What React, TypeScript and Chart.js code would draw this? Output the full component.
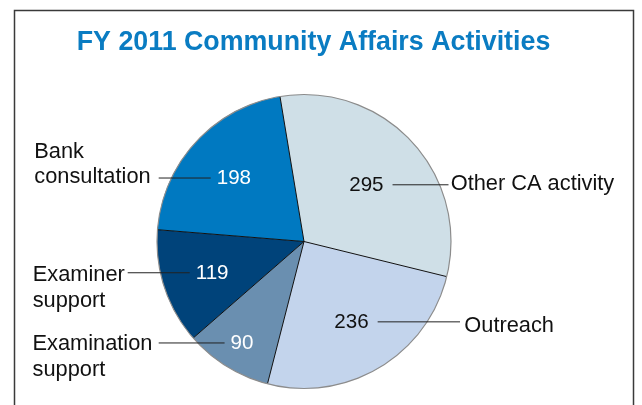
import { useEffect, useRef } from 'react';
import { Chart, PieController, ArcElement } from 'chart.js';

Chart.register(PieController, ArcElement);

// ---- data ----
const categories = ['Other CA activity', 'Outreach', 'Examination support', 'Examiner support', 'Bank consultation'];
const values = [295, 236, 90, 119, 198];
const labelLines = [['Other CA activity'], ['Outreach'], ['Examination', 'support'], ['Examiner', 'support'], ['Bank', 'consultation']];
const titleText = 'FY 2011 Community Affairs Activities';

// ---- styles ----
const sliceColors = ['#cfdfe7', '#c3d4ec', '#6a8fb0', '#00437a', '#0079c1'];
const valueTextColors = ['#111111', '#111111', '#ffffff', '#ffffff', '#ffffff'];

// ---- layout ----
const labelSide = ['right', 'right', 'left', 'left', 'left'];
const labelX = [450.7, 464.3, 32.5, 32.7, 34.3];
const leaderOuterX = [448.5, 460, 158.7, 127.7, 158.7];
const labelBaselineDy = [5.5, 10.5, 7.5, 8.3, 5.2];
const labelAttachLine = [0, 0, 0, 0, 1];
const valueRadiusFrac = [0.578, 0.629, 0.803, 0.658, 0.648];
const FONT = '"Liberation Sans", Arial, Helvetica, sans-serif';

const overlay = {
  id: 'overlay',
  beforeDraw(chart: any) {
    const ctx = chart.ctx as CanvasRenderingContext2D;
    ctx.save();
    ctx.fillStyle = '#ffffff';
    ctx.fillRect(0, 0, chart.width, chart.height);
    ctx.strokeStyle = '#3a3a3a';
    ctx.lineWidth = 1.5;
    ctx.strokeRect(14.5, 10.5, 619, 430);
    ctx.fillStyle = '#0a7cc2';
    ctx.font = `bold 26.8px ${FONT}`;
    ctx.textAlign = 'center';
    ctx.textBaseline = 'alphabetic';
    ctx.fillText(titleText, 313.5, 50);
    ctx.restore();
  },
  afterDatasetsDraw(chart: any) {
    const ctx = chart.ctx as CanvasRenderingContext2D;
    const meta = chart.getDatasetMeta(0);
    ctx.save();
    // radial separators
    meta.data.forEach((arc: any) => {
      ctx.beginPath();
      ctx.moveTo(arc.x, arc.y);
      ctx.lineTo(arc.x + Math.cos(arc.startAngle) * arc.outerRadius, arc.y + Math.sin(arc.startAngle) * arc.outerRadius);
      ctx.strokeStyle = '#111111';
      ctx.lineWidth = 1;
      ctx.stroke();
    });
    // outer edge
    const a0: any = meta.data[0];
    ctx.beginPath();
    ctx.arc(a0.x, a0.y, a0.outerRadius, 0, Math.PI * 2);
    ctx.strokeStyle = '#8c8c8c';
    ctx.lineWidth = 1.2;
    ctx.stroke();

    meta.data.forEach((arc: any, i: number) => {
      const mid = (arc.startAngle + arc.endAngle) / 2;
      const r = arc.outerRadius * valueRadiusFrac[i];
      const vx = arc.x + Math.cos(mid) * r;
      const vy = arc.y + Math.sin(mid) * r;
      const vfs = 20.6;
      ctx.font = `${vfs}px ${FONT}`;
      ctx.textAlign = 'center';
      ctx.textBaseline = 'alphabetic';
      ctx.fillStyle = valueTextColors[i];
      const txt = String(values[i]);
      ctx.fillText(txt, vx, vy + vfs * 0.36);
      const w = ctx.measureText(txt).width;
      const leaderY = vy + 1;
      const innerX = labelSide[i] === 'left' ? vx - w / 2 - 6 : vx + w / 2 + 9;
      ctx.beginPath();
      ctx.moveTo(leaderOuterX[i], leaderY);
      ctx.lineTo(innerX, leaderY);
      ctx.strokeStyle = '#222222';
      ctx.lineWidth = 1;
      ctx.stroke();
      // category label
      ctx.font = `21.8px ${FONT}`;
      ctx.textAlign = 'left';
      ctx.fillStyle = '#111111';
      const lines = labelLines[i];
      const attachBase = leaderY + labelBaselineDy[i];
      const lh = 25.5;
      lines.forEach((ln, k) => {
        ctx.fillText(ln, labelX[i], attachBase + (k - labelAttachLine[i]) * lh);
      });
    });
    ctx.restore();
  },
};

export default function App() {
  const ref = useRef<HTMLCanvasElement>(null);
  useEffect(() => {
    const chart = new Chart(ref.current as HTMLCanvasElement, {
      type: 'pie',
      data: {
        labels: categories,
        datasets: [{ data: values, backgroundColor: sliceColors, borderWidth: 0 }],
      },
      options: {
        responsive: false,
        animation: false,
        rotation: -9.4,
        events: [],
        layout: { padding: { left: 157, right: 191, top: 94.5, bottom: 16.5 } },
        plugins: { legend: { display: false }, tooltip: { enabled: false } } as any,
      },
      plugins: [overlay as any],
    });
    return () => chart.destroy();
  }, []);
  return (
    <div style={{ position: 'fixed', left: 0, top: 0, width: 642, height: 405, background: '#fff' }}>
      <canvas ref={ref} width={642} height={405} style={{ display: 'block', width: 642, height: 405 }} />
    </div>
  );
}
